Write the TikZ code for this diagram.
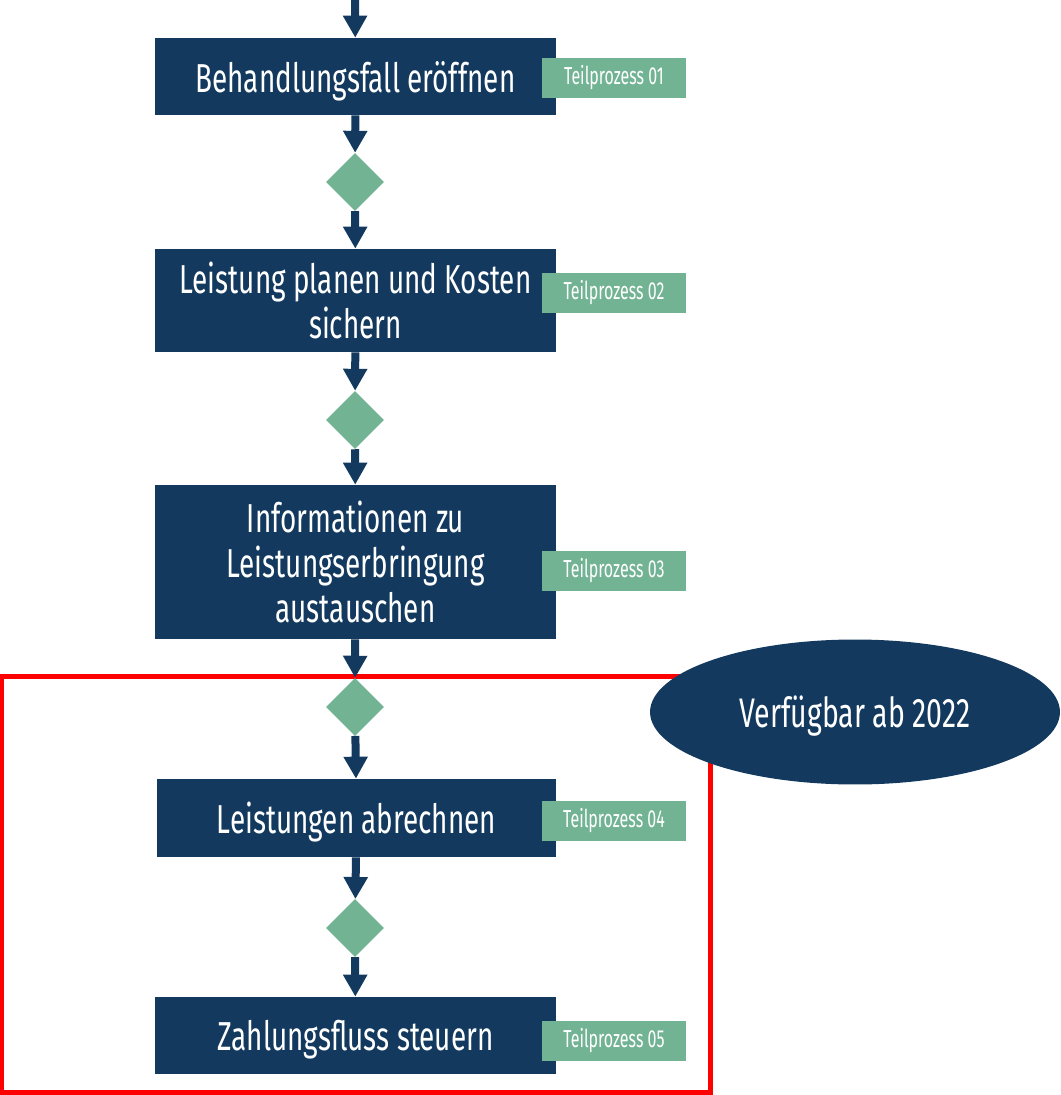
\documentclass[tikz,border=0pt]{standalone}
\usepackage{fontspec}
\setmainfont{Fira Sans}[FakeStretch=0.69]
\newfontfamily\teilfont{Fira Sans}[FakeStretch=0.65]
\usetikzlibrary{shapes.geometric,arrows.meta}
\definecolor{dunkelblau}{HTML}{133A5E}
\definecolor{gruen}{HTML}{72B393}

\begin{document}
\begin{tikzpicture}[x=0.02cm,y=-0.02cm]
                    \tikzset{prozess/.style={rectangle, fill=dunkelblau, text=white, minimum width=8.02cm, inner sep=0pt, align=center, font=\fontsize{23}{25.5}\selectfont}}
                    \tikzset{einzeilig/.style={prozess, text depth=0pt, minimum height=1.54cm}}
                    \tikzset{teil/.style={rectangle, fill=gruen, text=white, minimum width=2.88cm, minimum height=0.8cm, inner sep=0pt, font=\teilfont\fontsize{14}{16}\selectfont}}
                    \tikzset{raute/.style={diamond, fill=gruen, minimum width=1.16cm, minimum height=1.16cm, inner sep=0pt}}
                    \tikzset{pfeil/.style={draw=dunkelblau, line width=0.16cm, -{Triangle[length=0.44cm, width=0.46cm]}}}
                    \useasboundingbox (0,0) rectangle (1061,1095);
                    \draw[red, line width=0.1cm] (2,676) rectangle (710,1092);
                    \coordinate (start) at (355,0);
                    \node[einzeilig] (tp1) at (355.5,76.5) {Behandlungsfall eröffnen};
                    \node[prozess, minimum height=2.06cm] (tp2) at (355.5,300.5) {Leistung planen und Kosten\\sichern};
                    \node[prozess, minimum height=3.08cm] (tp3) at (355.5,562) {Informationen zu\\Leistungserbringung\\austauschen};
                    \node[einzeilig, minimum height=1.56cm, minimum width=7.98cm] (tp4) at (356.5,818) {Leistungen abrechnen};
                    \node[einzeilig] (tp5) at (355.5,1035.5) {Zahlungsfluss steuern};
                    \node[teil] (teil1) at (614,78) {Teilprozess 01};
                    \node[teil] (teil2) at (614,293) {Teilprozess 02};
                    \node[teil] (teil3) at (614,570.5) {Teilprozess 03};
                    \node[teil] (teil4) at (614,821) {Teilprozess 04};
                    \node[teil] (teil5) at (614,1041) {Teilprozess 05};
                    \node[raute] (r1) at (355,182) {};
                    \node[raute] (r2) at (355,420) {};
                    \node[raute] (r3) at (355,707) {};
                    \node[raute] (r4) at (355,928) {};
                    \node[ellipse, fill=dunkelblau, text=white, minimum width=8.2cm, minimum height=2.9cm, text depth=0pt, font=\fontsize{23.5}{25}\selectfont] (verf) at (855,712) {Verfügbar ab 2022};
                    \draw[pfeil] (start) -- (tp1);
                    \draw[pfeil] (tp1) -- (r1);
                    \draw[pfeil] (r1) -- (tp2);
                    \draw[pfeil] (tp2) -- (r2);
                    \draw[pfeil] (r2) -- (tp3);
                    \draw[pfeil] (tp3) -- (r3);
                    \draw[pfeil] (r3) -- (tp4);
                    \draw[pfeil] (tp4) -- (r4);
                    \draw[pfeil] (r4) -- (tp5);
\end{tikzpicture}
\end{document}
